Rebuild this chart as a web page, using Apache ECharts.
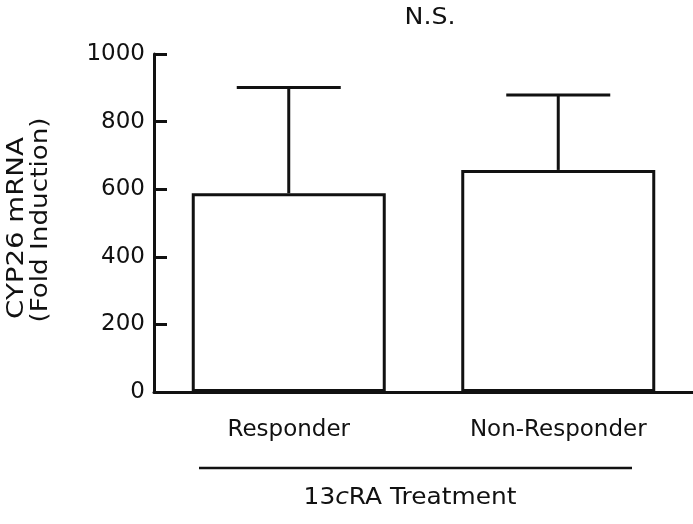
<!DOCTYPE html>
<html>
<head>
<meta charset="utf-8">
<style>
  html, body { margin: 0; padding: 0; background: #fff; }
  #chart { width: 693px; height: 524px; }
</style>
<script src="https://cdn.jsdelivr.net/npm/echarts@6/dist/echarts.min.js"></script>
</head>
<body>
<div id="chart"></div>
<script>
  const categories = ['Responder', 'Non-Responder'];
  const meanValues = [588, 657];
  const upperValues = [901, 879];
  const yTicks = { min: 0, max: 1000, interval: 200 };

  const font = '"DejaVu Sans", "Liberation Sans", Arial, sans-serif';
  const ink = '#111';
  const chart = echarts.init(document.getElementById('chart'));

  const errorData = categories.map((name, i) => [i, meanValues[i], upperValues[i]]);

  function label(text, x, y, opts) {
    return Object.assign({
      type: 'text', x, y,
      style: { text, font: `23px ${font}`, fill: ink, align: 'center', verticalAlign: 'middle' },
    }, opts || {});
  }

  chart.setOption({
    animation: false,
    backgroundColor: '#fff',
    grid: { left: 154, right: 0, top: 54, bottom: 132 },
    xAxis: {
      type: 'category',
      data: categories,
      axisLine: { lineStyle: { color: ink, width: 3 } },
      axisTick: { show: false },
      axisLabel: { color: ink, fontSize: 23, fontFamily: font, margin: 27 },
    },
    yAxis: {
      type: 'value',
      min: yTicks.min,
      max: yTicks.max,
      interval: yTicks.interval,
      axisLine: { show: true, lineStyle: { color: ink, width: 3 } },
      axisTick: { show: true, inside: true, length: 13, lineStyle: { color: ink, width: 3 } },
      axisLabel: { color: ink, fontSize: 23, fontFamily: font, margin: 9, formatter: (v) => String(v) },
      splitLine: { show: false },
    },
    series: [
      {
        type: 'bar',
        data: meanValues,
        barWidth: 194,
        itemStyle: { color: '#fff', borderColor: ink, borderWidth: 3 },
        z: 2,
      },
      {
        type: 'custom',
        data: errorData,
        z: 3,
        renderItem(params, api) {
          const idx = api.value(0);
          const base = api.coord([idx, api.value(1)]);
          const top = api.coord([idx, api.value(2)]);
          const half = 52;
          const style = { stroke: ink, lineWidth: 3 };
          return {
            type: 'group',
            children: [
              { type: 'line', shape: { x1: top[0], y1: base[1], x2: top[0], y2: top[1] }, style },
              { type: 'line', shape: { x1: top[0] - half, y1: top[1], x2: top[0] + half, y2: top[1] }, style },
            ],
          };
        },
      },
    ],
    graphic: [
      label('N.S.', 430, 18, { scaleX: 1.1 }),
      label('CYP26 mRNA', 17, 228, { rotation: Math.PI / 2, scaleX: 1.2 }),
      label('(Fold Induction)', 41, 220, { rotation: Math.PI / 2, scaleX: 1.14 }),
      {
        type: 'line',
        shape: { x1: 199, y1: 468, x2: 632, y2: 468 },
        style: { stroke: ink, lineWidth: 2.5 },
      },
      {
        type: 'text', x: 410, y: 498, scaleX: 1.08,
        style: {
          text: '13{i|c}RA Treatment',
          font: `23px ${font}`, fill: ink, align: 'center', verticalAlign: 'middle',
          rich: { i: { fontStyle: 'italic', fontSize: 23, fontFamily: font, fill: ink } },
        },
      },
    ],
  });
</script>
</body>
</html>
